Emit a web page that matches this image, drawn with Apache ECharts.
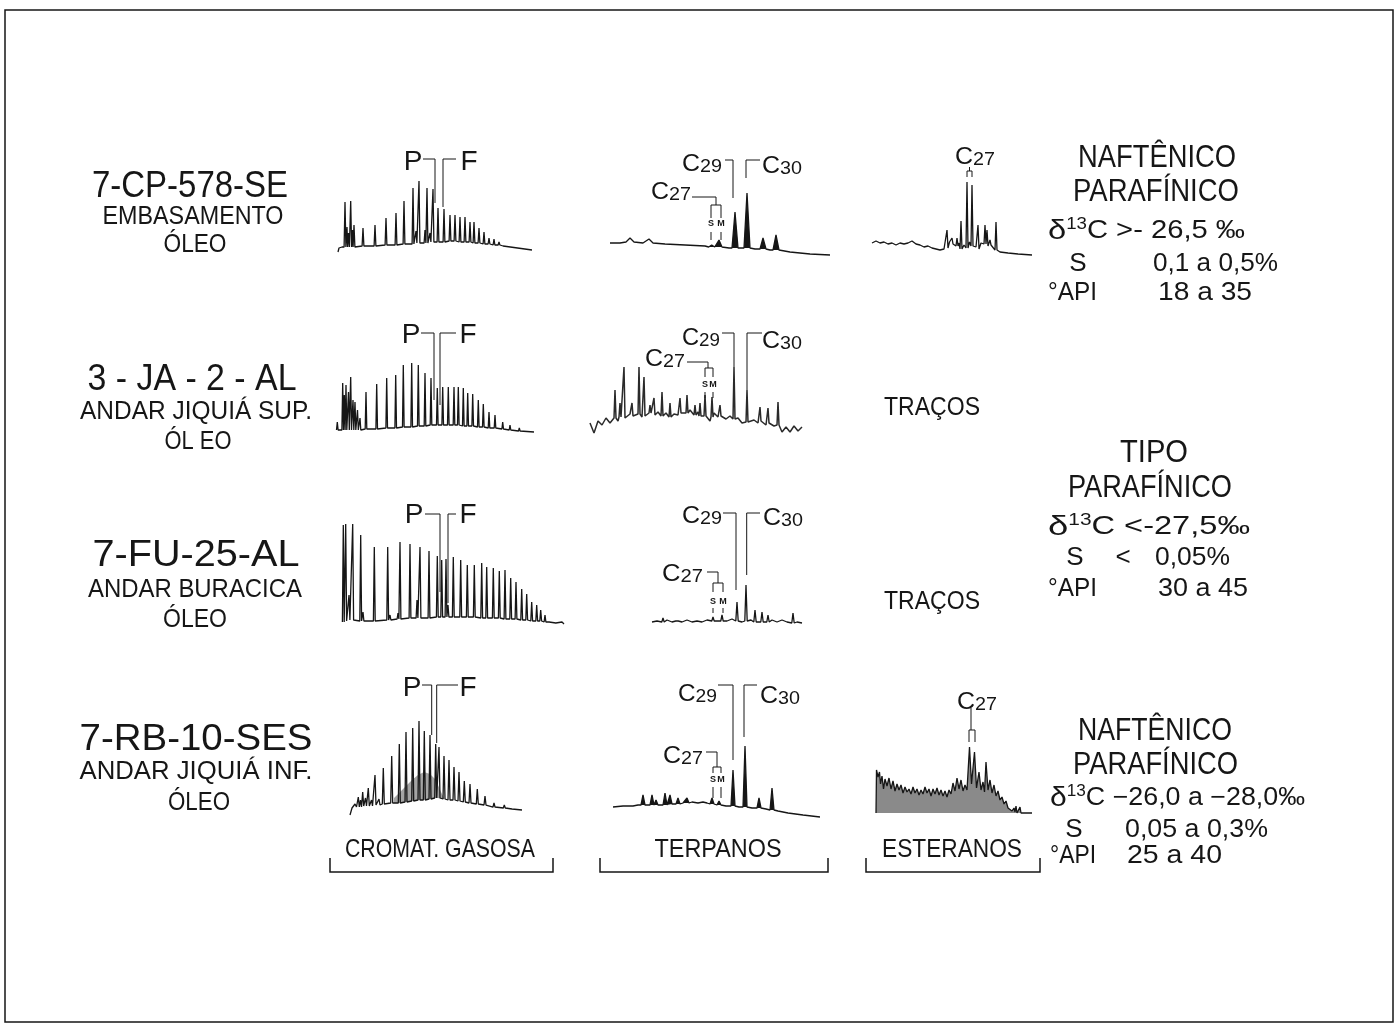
<!DOCTYPE html>
<html>
<head>
<meta charset="utf-8">
<title>Óleos – cromatografia gasosa, terpanos e esteranos</title>
<script src="https://cdn.jsdelivr.net/npm/echarts/dist/echarts.min.js"></script>
<style>
  html, body { margin: 0; padding: 0; background: #fff; }
  #chart { width: 1398px; height: 1025px; }
</style>
</head>
<body>
<div id="chart"></div>
<script>
// Values. x = retention (panel units), y = detector response.
// Each peak: position, top and the baseline level under it.

// 7-CP-578-SE, cromatografia gasosa
const gc1Rt = [9, 11, 12.5, 14.7, 16.5, 18, 27, 39, 50, 60, 68, 77, 80, 83, 89, 91, 94, 97, 102, 108, 114, 119, 124, 129, 134, 138, 143, 148, 153, 158, 163, 168];
const gc1Top = [53, 28, 22, 54, 25, 30, 27, 30, 37, 42, 54, 67, 24, 74, 25, 67, 22, 66, 47, 46, 40, 40, 38, 38, 33, 33, 27, 23, 17, 16, 13, 11];
const gc1Foot = [8, 8, 8, 8, 8, 8, 9, 9, 10, 10, 11, 11, 12, 12, 12, 12, 13, 13, 13, 13, 14, 14, 13, 13, 13, 12, 12, 11, 11, 10, 10, 9];
const gc1Trace = [[2, 3], [3, 7], [6, 8], [196, 5]];

// 7-CP-578-SE, terpanos
const tp1Rt = [106.7, 114, 130, 142, 158, 171];
const tp1Top = [13, 18, 46, 65, 20, 23];
const tp1Foot = [11, 11, 10, 10, 9, 8];
const tp1Trace = [[5, 15], [15, 15], [21, 16], [25, 20], [29, 16], [38, 15], [44, 19], [48, 15], [60, 14], [80, 13], [100, 12], [124, 10], [136, 10], [150, 9], [165, 8], [185, 6], [205, 4], [225, 3]];

// 7-CP-578-SE, esteranos
const st1Rt = [79, 84, 89, 93, 99, 104, 107, 110, 117, 119, 122, 128];
const st1Top = [28, 20, 20, 37, 76, 73, 13, 33, 33, 28, 18, 36];
const st1Foot = [10, 14, 12, 9, 10, 12, 11, 9, 14, 12, 13, 8];
const st1Trace = [[4, 15], [8, 17], [12, 15], [16, 16], [20, 14], [24, 15], [28, 13], [32, 15], [36, 14], [40, 15], [44, 17], [48, 14], [52, 13], [56, 11], [60, 12], [64, 10], [68, 9], [72, 8], [76, 9], [81.5, 16], [86.5, 12], [91, 15], [96, 13], [101.5, 16], [113, 15], [125, 12], [132, 6], [140, 5], [150, 4], [164, 3]];

// 3-JA-2-AL, cromatografia gasosa
const gc2Rt = [1.3, 6.7, 8.3, 10, 12.5, 14.7, 17, 19, 21.5, 24, 30, 40.7, 50.7, 59.7, 67.3, 75.7, 82.3, 89, 95, 101.3, 106.7, 112.3, 118, 122.3, 127.3, 131.7, 136.7, 142.3, 147.3, 153, 159, 166.7, 174, 183.3];
const gc2Top = [18, 57, 45, 55, 48, 63, 40, 38, 30, 22, 48, 56, 62, 65, 75, 77, 75, 67, 62, 52, 53, 53, 53, 53, 52, 47, 46, 40, 36, 28, 25, 18, 15, 12];
const gc2Foot = [10, 10, 10, 10, 10, 10, 10, 10, 10, 10, 11, 11, 12, 12, 13, 13, 14, 14, 15, 15, 15, 15, 15, 15, 14, 14, 14, 13, 13, 12, 12, 11, 10, 9];
const gc2Trace = [[0.5, 6], [198, 8]];

// 3-JA-2-AL, terpanos (noisy baseline)
const tp2Rt = [27, 32, 36, 44, 51, 56, 62, 66, 74, 82, 92, 99, 107, 112, 117, 124, 132, 146, 159, 172, 180, 190];
const tp2Top = [55, 42, 78, 42, 78, 68, 40, 47, 53, 42, 47, 50, 40, 42, 50, 48, 40, 78, 55, 38, 37, 43];
const tp2Foot = [27, 28, 27, 29, 31, 29, 32, 30, 29, 28, 32, 32, 30, 29, 29, 28, 29, 26, 23, 24, 22, 20];
const tp2Trace = [[2, 22], [6, 12], [10, 24], [14, 20], [18, 27], [22, 22], [26, 29], [30, 24], [34, 30], [38, 25], [42, 31], [46, 27], [50, 33], [54, 28], [58, 30], [62, 34], [66, 29], [70, 33], [74, 28], [78, 32], [82, 27], [86, 31], [90, 30], [94, 34], [98, 30], [102, 35], [106, 29], [110, 33], [114, 27], [118, 31], [122, 24], [126, 32], [130, 28], [134, 30], [138, 26], [142, 29], [146, 24], [150, 27], [154, 22], [158, 26], [162, 21], [166, 25], [170, 22], [174, 26], [178, 20], [182, 24], [186, 19], [190, 24], [194, 13], [198, 18], [202, 13], [206, 19], [210, 14], [214, 18]];

// 7-FU-25-AL, cromatografia gasosa
const gc3Rt = [7.3, 9.7, 13, 16.7, 24.7, 27, 38.3, 51.7, 54, 62, 64, 74, 81, 84, 93, 101.3, 105.7, 110, 112, 117.3, 124.7, 131.3, 138.3, 145.7, 150.7, 157.3, 163.3, 169, 174.7, 180, 185.7, 190.7, 195.7, 200.7, 204.7, 209, 214, 220.7];
const gc3Top = [105, 106, 35, 106, 95, 18, 83, 83, 15, 17, 88, 86, 30, 83, 79, 74, 70, 71, 25, 73, 70, 65, 65, 67, 63, 62, 59, 60, 52, 48, 41, 36, 28, 25, 20, 15, 10, 8];
const gc3Foot = [8, 9, 10, 10, 9, 9, 9, 10, 10, 11, 11, 12, 12, 12, 12, 13, 13, 13, 13, 13, 13, 13, 13, 12, 12, 12, 12, 11, 11, 11, 10, 10, 9, 9, 9, 8, 8, 7];
const gc3Trace = [[6.4, 3], [226, 8], [228, 6]];

// 7-FU-25-AL, terpanos
const tp3Rt = [18, 32, 68, 77, 92, 101, 110, 117, 123, 148];
const tp3Top = [12, 11, 13, 15, 28, 45, 20, 18, 15, 17];
const tp3Foot = [8, 9, 9, 9, 9, 9, 8, 8, 8, 7];
const tp3Trace = [[7, 8], [12, 9], [22, 10], [27, 8], [37, 8], [42, 10], [47, 8], [52, 9], [57, 8], [62, 10], [72, 9], [82, 9], [87, 11], [97, 8], [106, 10], [113, 9], [127, 10], [132, 8], [137, 10], [142, 8], [152, 8], [157, 7]];

// 7-RB-10-SES, cromatografia gasosa
const gc4Rt = [22.3, 24.5, 26.7, 29.5, 32.3, 35.5, 39, 43, 47.3, 55.7, 63.3, 70, 76.7, 83, 88.3, 94, 99.7, 103, 108, 113, 118, 123, 128.3, 134, 141.3, 149, 158, 168.3];
const gc4Top = [23, 20, 28, 22, 32, 20, 45, 21, 52, 64, 76, 88, 92, 99, 89, 85, 76, 73, 64, 60, 53, 48, 39, 36, 31, 24, 17, 15];
const gc4Foot = [13, 13, 14, 14, 14, 14, 15, 15, 16, 17, 17, 18, 19, 20, 20, 21, 22, 22, 21, 20, 20, 19, 18, 17, 16, 15, 13, 12];
const gc4Trace = [[14, 5], [16, 12], [19, 16], [20.5, 13], [176, 11], [186, 10]];
const gc4Hump = [[58, 22], [64, 28], [70, 34], [76, 40], [82, 45], [88, 48], [94, 46], [100, 40], [104, 30], [108, 22]];

// 7-RB-10-SES, terpanos
const tp4Rt = [35, 44, 48, 57, 62, 70, 79, 104, 111, 125, 137, 151, 164];
const tp4Top = [30, 30, 25, 32, 30, 27, 27, 27, 24, 55, 79, 27, 37];
const tp4Foot = [20, 20, 20, 20, 21, 21, 22, 21, 20, 19, 18, 17, 15];
const tp4Trace = [[5, 18], [15, 19], [25, 19], [30, 20], [52, 20], [66, 21], [75, 22], [84, 23], [90, 22], [95, 23], [99, 22], [118, 19], [131, 18], [144, 17], [158, 16], [170, 14], [180, 12], [195, 10], [212, 8]];

// 7-RB-10-SES, esteranos (grey envelope)
const st4Trace = [[6, 7], [6.5, 50], [8, 43], [9.5, 48], [10.5, 36], [12, 44], [13.5, 31], [15, 41], [17, 34], [19, 42], [21, 31], [23, 39], [25, 29], [27, 36], [29, 30], [31, 35], [33, 27], [35, 33], [37, 28], [39, 31], [41, 26], [43, 33], [45, 27], [47, 31], [49, 25], [51, 30], [53, 26], [55, 33], [57, 27], [59, 31], [61, 24], [63, 31], [65, 26], [67, 32], [69, 25], [71, 30], [73, 24], [75, 29], [77, 23], [79, 30], [81, 26], [83, 37], [85, 29], [87, 42], [89, 31], [91, 40], [93, 29], [95, 35], [97, 30], [99.5, 73], [101.5, 36], [104.5, 68], [106.5, 32], [109, 48], [111, 30], [113, 38], [114.5, 28], [116, 58], [118, 30], [120, 40], [122, 27], [124, 35], [126, 24], [128, 29], [130, 20], [132, 23], [134, 16], [136, 19], [138, 12], [140, 14], [142, 9], [144, 12], [145, 8], [146, 14], [147, 7], [149, 7], [150, 13], [151, 7], [155, 7], [162, 7]];

const INK = '#161616';
const FONT = '"Liberation Sans", Arial, sans-serif';

// panel boxes and annotation leaders ([x, yFrom, yTo, xEnd]); brackets [xS, xM, top, legEnd, dashTop, dashEnd]
const panels = [
  { box: [336, 140, 200, 115], rt: gc1Rt, top: gc1Top, foot: gc1Foot, trace: gc1Trace, hw: 0.9,
    leaders: [[99, 52, 96, 87], [107, 48, 96, 120]] },
  { box: [605, 140, 230, 118], rt: tp1Rt, top: tp1Top, foot: tp1Foot, trace: tp1Trace, hw: 3, fill: INK,
    leaders: [[111, 53, 61, 87], [128, 60, 98, 120], [141, 80, 98, 155]], brackets: [[106, 116, 53, 40, 26, 18]] },
  { box: [868, 140, 168, 118], rt: st1Rt, top: st1Top, foot: st1Foot, trace: st1Trace, hw: 1,
    leaders: [[101.5, 87, 91, 101.5]], brackets: [[99, 104, 87, 81]] },
  { box: [336, 315, 200, 125], rt: gc2Rt, top: gc2Top, foot: gc2Foot, trace: gc2Trace, hw: 0.8,
    leaders: [[98, 40, 107, 85], [104, 35, 107, 120]] },
  { box: [588, 315, 220, 130], rt: tp2Rt, top: tp2Top, foot: tp2Foot, trace: tp2Trace, hw: 1, ink: '#2a2a2a', lw: 1.5,
    leaders: [[120, 77, 83, 99], [146, 78, 112, 134], [159, 55, 112, 174]], brackets: [[117, 125, 77, 68, 53, 47]] },
  { box: [336, 500, 230, 130], rt: gc3Rt, top: gc3Top, foot: gc3Foot, trace: gc3Trace, hw: 0.9,
    leaders: [[104, 38, 116, 89], [112, 27, 116, 120]] },
  { box: [645, 500, 165, 130], rt: tp3Rt, top: tp3Top, foot: tp3Foot, trace: tp3Trace, hw: 1.2,
    leaders: [[73, 47, 58, 62], [91, 40, 117, 78], [101.7, 55, 117, 115]], brackets: [[68, 78, 47, 38, 22, 17]] },
  { box: [336, 675, 200, 145], rt: gc4Rt, top: gc4Top, foot: gc4Foot, trace: gc4Trace, hw: 1, hump: gc4Hump,
    leaders: [[95.7, 85, 135, 86], [100.7, 77, 135, 122]] },
  { box: [608, 675, 215, 150], rt: tp4Rt, top: tp4Top, foot: tp4Foot, trace: tp4Trace, hw: 2, fill: INK,
    leaders: [[109, 58, 73, 98], [125, 65, 140, 110], [136, 88, 140, 149]], brackets: [[105, 113, 58, 52, 38, 27]] },
  { box: [870, 680, 168, 133], ymin: 7, rt: [], top: [], foot: [], trace: st4Trace, hw: 1, fill: '#8a8a8a',
    leaders: [[101, 90, 112, 101]], brackets: [[99, 105, 90, 78]] },
];

function trace(p, withTops) {
  const pts = p.trace.filter((q) => !p.rt.some((x) => Math.abs(q[0] - x) <= p.hw + 0.05)).map((q) => q.slice());
  p.rt.forEach((x, i) => {
    pts.push([x - p.hw, p.foot[i]]);
    if (withTops) pts.push([x, p.top[i]]);
    pts.push([x + p.hw, p.foot[i]]);
  });
  return pts.sort((a, b) => a[0] - b[0]);
}

function lineSeries(i, data, color, width) {
  return {
    type: 'line', xAxisIndex: i, yAxisIndex: i, data, symbol: 'none', showSymbol: false,
    lineStyle: { color, width }, silent: true, animation: false, clip: false,
  };
}
function areaSeries(i, data, color) {
  const s = lineSeries(i, data, color, 0);
  s.areaStyle = { color, opacity: 1, origin: 'start' };
  return s;
}

const grid = [];
const xAxis = [];
const yAxis = [];
const series = [];
panels.forEach((p, i) => {
  const ymin = p.ymin || 0;
  grid.push({ left: p.box[0], top: p.box[1], width: p.box[2], height: p.box[3], show: false });
  xAxis.push({ gridIndex: i, type: 'value', min: 0, max: p.box[2], show: false });
  yAxis.push({ gridIndex: i, type: 'value', min: ymin, max: ymin + p.box[3], show: false });
  const full = trace(p, true);
  if (p.hump) series.push(areaSeries(i, p.hump, '#a4a4a4'));
  if (p.fill) series.push(areaSeries(i, full, p.fill));
  if ((p.fill && p.rt.length) || p.hump) series.push(areaSeries(i, trace(p, false), '#fff'));
  series.push(lineSeries(i, full, p.ink || INK, p.lw || 1.3));
  p.leaders.forEach((m) => {
    series.push(lineSeries(i, [[m[0], m[1]], [m[0], m[2]], [m[3], m[2]]], INK, 1));
  });
  (p.brackets || []).forEach((b) => {
    series.push(lineSeries(i, [[b[0], b[3]], [b[0], b[2]], [b[1], b[2]], [b[1], b[3]]], INK, 1));
    if (b[4] !== undefined) {
      series.push(lineSeries(i, [[b[0], b[4]], [b[0], b[5]]], INK, 1));
      series.push(lineSeries(i, [[b[1], b[4]], [b[1], b[5]]], INK, 1));
    }
  });
});

// ---- lettering ----
const ctx = document.createElement('canvas').getContext('2d');
function measure(t, size, weight) {
  ctx.font = (weight || 'normal') + ' ' + size + 'px ' + FONT;
  return ctx.measureText(t).width;
}
function lettering(parts, x, y, width, align, weight) {
  let cursor = 0;
  const children = [];
  parts.forEach(([t, size, dy]) => {
    children.push({
      type: 'text', x: cursor, y: dy || 0,
      style: { text: t, fontSize: size, fontFamily: FONT, fontWeight: weight || 'normal', fill: INK,
        align: 'left', textAlign: 'left', verticalAlign: 'middle', textVerticalAlign: 'middle' },
    });
    cursor += measure(t, size, weight);
  });
  const k = width ? width / cursor : 1;
  const left = align === 'center' ? x - (cursor * k) / 2 : x;
  return { type: 'group', x: left, y, scaleX: k, children, silent: true };
}
const T = (t, size) => [[t, size, 0]];
const C = (d) => [['C', 24, 0], [d, 19, 3]];
const D = (rest) => [['δ', 28, 0], ['13', 16, -6], [rest, 25, 0]];

const words = [
  [T('7-CP-578-SE', 36), 190, 187, 196, 'center'],
  [T('EMBASAMENTO', 25), 193, 217, 181, 'center'],
  [T('ÓLEO', 25), 195, 245, 63, 'center'],
  [T('3 - JA - 2 - AL', 36), 192, 380, 209, 'center'],
  [T('ANDAR JIQUIÁ SUP.', 25), 196, 412, 232, 'center'],
  [T('ÓL EO', 25), 198, 442, 67, 'center'],
  [T('7-FU-25-AL', 36), 196, 556, 207, 'center'],
  [T('ANDAR BURACICA', 25), 195, 590, 214, 'center'],
  [T('ÓLEO', 25), 195, 620, 64, 'center'],
  [T('7-RB-10-SES', 36), 196, 740, 233, 'center'],
  [T('ANDAR JIQUIÁ INF.', 25), 196, 772, 233, 'center'],
  [T('ÓLEO', 25), 199, 803, 62, 'center'],

  [T('CROMAT. GASOSA', 25), 440, 850, 190, 'center'],
  [T('TERPANOS', 25), 718, 850, 127, 'center'],
  [T('ESTERANOS', 25), 952, 850, 140, 'center'],
  [T('TRAÇOS', 25), 932, 408, 96, 'center'],
  [T('TRAÇOS', 25), 932, 602, 96, 'center'],

  [T('NAFTÊNICO', 32), 1078, 158, 158, 'left'],
  [T('PARAFÍNICO', 32), 1073, 192, 166, 'left'],
  [D('C >- 26,5 ‰'), 1048, 231, 197, 'left'],
  [T('S', 26), 1078, 264, 0, 'center'],
  [T('0,1 a 0,5%', 26), 1153, 264, 125, 'left'],
  [T('°API', 26), 1048, 293, 49, 'left'],
  [T('18 a 35', 26), 1158, 293, 94, 'left'],

  [T('TIPO', 32), 1120, 453, 68, 'left'],
  [T('PARAFÍNICO', 32), 1068, 488, 164, 'left'],
  [D('C <-27,5‰'), 1048, 527, 202, 'left'],
  [T('S', 26), 1075, 558, 0, 'center'],
  [T('<', 26), 1123, 558, 0, 'center'],
  [T('0,05%', 26), 1155, 558, 75, 'left'],
  [T('°API', 26), 1048, 589, 49, 'left'],
  [T('30 a 45', 26), 1158, 589, 90, 'left'],

  [T('NAFTÊNICO', 32), 1078, 731, 154, 'left'],
  [T('PARAFÍNICO', 32), 1073, 765, 165, 'left'],
  [D('C −26,0 a −28,0‰'), 1050, 798, 255, 'left'],
  [T('S', 26), 1074, 830, 0, 'center'],
  [T('0,05 a 0,3%', 26), 1125, 830, 143, 'left'],
  [T('°API', 26), 1050, 856, 46, 'left'],
  [T('25 a 40', 26), 1127, 856, 95, 'left'],

  [T('P', 28), 413, 162, 0, 'center'], [T('F', 28), 469, 162, 0, 'center'],
  [T('P', 28), 411, 335, 0, 'center'], [T('F', 28), 468, 335, 0, 'center'],
  [T('P', 28), 414, 515, 0, 'center'], [T('F', 28), 468, 515, 0, 'center'],
  [T('P', 28), 412, 688, 0, 'center'], [T('F', 28), 468, 688, 0, 'center'],

  [C('29'), 682, 164, 40, 'left'], [C('30'), 762, 166, 40, 'left'], [C('27'), 651, 192, 40, 'left'],
  [C('27'), 645, 359, 40, 'left'], [C('29'), 682, 338, 38, 'left'], [C('30'), 762, 341, 40, 'left'],
  [C('29'), 682, 516, 40, 'left'], [C('30'), 763, 518, 40, 'left'], [C('27'), 662, 574, 41, 'left'],
  [C('29'), 678, 694, 39, 'left'], [C('30'), 760, 696, 40, 'left'], [C('27'), 663, 756, 40, 'left'],
  [C('27'), 955, 157, 40, 'left'], [C('27'), 957, 702, 40, 'left'],
];
const smallSM = [[711, 224], [721, 224], [705, 385], [713, 385], [713, 602], [723, 602], [713, 780], [721, 780]];

const graphic = words.map((w) => lettering(w[0], w[1], w[2], w[3], w[4]));
smallSM.forEach((pt, i) => graphic.push(lettering(T(i % 2 ? 'M' : 'S', 9), pt[0], pt[1], 0, 'center', 'bold')));

// frame and column brackets
graphic.push({ type: 'rect', shape: { x: 5, y: 10, width: 1388, height: 1012 }, style: { fill: null, stroke: INK, lineWidth: 1.5 }, silent: true });
[[330, 553], [600, 828], [866, 1040]].forEach(([a, b]) => {
  graphic.push({ type: 'polyline', shape: { points: [[a, 858], [a, 872], [b, 872], [b, 858]] }, style: { fill: null, stroke: INK, lineWidth: 1.5 }, silent: true });
});

const chart = echarts.init(document.getElementById('chart'), null, { renderer: 'canvas' });
chart.setOption({
  backgroundColor: '#fff',
  animation: false,
  grid, xAxis, yAxis, series, graphic,
});
</script>
</body>
</html>
